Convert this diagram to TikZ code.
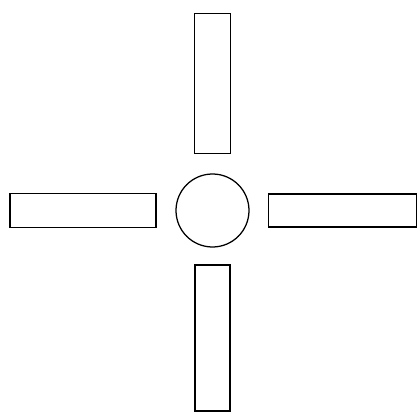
\documentclass[tikz,border=0pt]{standalone}
\usepackage{tikz}
\usetikzlibrary{positioning}

\begin{document}
\begin{tikzpicture}[
  line width=0.9pt,
  armblk/.style={draw, inner sep=0pt, outer sep=0pt},
  hubblk/.style={draw, circle, inner sep=0pt, outer sep=0pt, minimum size=18.25mm}
]
\useasboundingbox (-5.3125,5.2625) rectangle (5.1125,-5.1375);
\node[hubblk] (hub) at (0,0) {};
\node[armblk, minimum width=9mm, minimum height=35mm, above=5.2mm of hub] (north) {};
\node[armblk, minimum width=36.5mm, minimum height=8.5mm, left=5mm of hub] (west) {};
\node[armblk, minimum width=37mm, minimum height=8.3mm, right=4.8mm of hub] (east) {};
\node[armblk, minimum width=8.8mm, minimum height=36.5mm, below=4.5mm of hub] (south) {};
\end{tikzpicture}
\end{document}
